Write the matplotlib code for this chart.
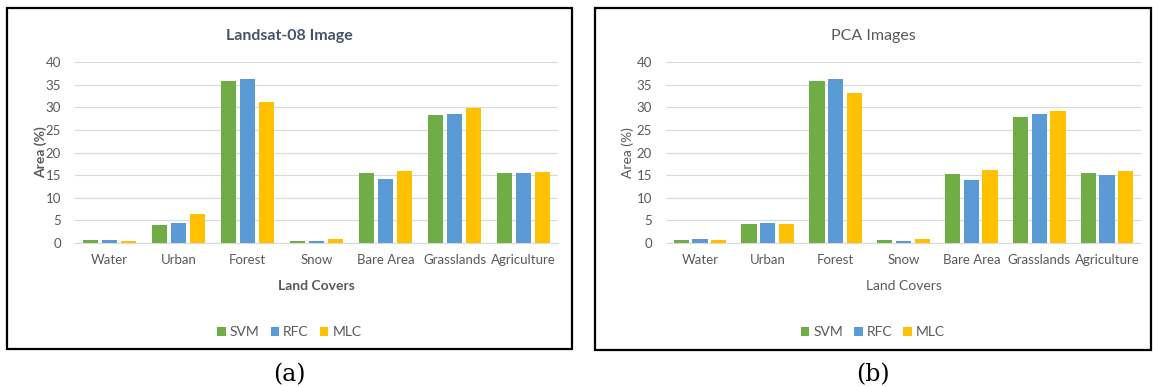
import matplotlib.pyplot as plt
from matplotlib.patches import Rectangle
import numpy as np

# Data
land_covers = ["Water", "Urban", "Forest", "Snow", "Bare Area", "Grasslands", "Agriculture"]
methods = ["SVM", "RFC", "MLC"]
colors = ["#70AD47", "#5B9BD5", "#FFC000"]

# Landsat-08 image classification (area %)
landsat_svm = [0.7, 4.0, 35.8, 0.5, 15.4, 28.2, 15.4]
landsat_rfc = [0.7, 4.4, 36.3, 0.5, 14.1, 28.5, 15.4]
landsat_mlc = [0.4, 6.3, 31.1, 0.9, 16.0, 29.8, 15.8]

# PCA images classification (area %)
pca_svm = [0.7, 4.1, 35.7, 0.6, 15.3, 27.9, 15.4]
pca_rfc = [0.9, 4.5, 36.3, 0.5, 13.9, 28.5, 15.1]
pca_mlc = [0.6, 4.2, 33.2, 0.8, 16.1, 29.1, 15.9]

W, H = 1153, 387
plt.rcParams['font.family'] = ['Lato', 'DejaVu Sans']
fig = plt.figure(figsize=(W / 100, H / 100), dpi=100)


def px_box(x0, y0, x1, y1):
    # pixel box (top-left origin) -> figure fraction rect
    return [x0 / W, 1 - y1 / H, (x1 - x0) / W, (y1 - y0) / H]


def panel(box, frame, title, series, bold, caption, ylab_x):
    text_col = "#595959"
    weight = "bold" if bold else "normal"
    # outer frame
    fx0, fy0, fx1, fy1 = frame
    fig.patches.append(Rectangle((fx0 / W, 1 - fy1 / H), (fx1 - fx0) / W, (fy1 - fy0) / H,
                                 transform=fig.transFigure, fill=False,
                                 edgecolor="black", linewidth=1.6))
    frame_cx = (fx0 + fx1) / 2
    ax = fig.add_axes(px_box(*box))
    x = np.arange(len(land_covers))
    width = 0.225
    step = 0.275
    for i, (vals, c, name) in enumerate(zip(series, colors, methods)):
        ax.bar(x + (i - 1) * step, vals, width=width, color=c, label=name, zorder=3)
    ax.set_xlim(-0.5, len(land_covers) - 0.5)
    ax.set_ylim(0, 40)
    ax.set_yticks(range(0, 41, 5))
    ax.set_xticks(x)
    ax.set_xticklabels(land_covers)
    ax.tick_params(length=0, labelsize=9.5, colors=text_col)
    ax.tick_params(axis="x", pad=8)
    ax.tick_params(axis="y", pad=10)
    ax.grid(axis="y", color="#D9D9D9", linewidth=0.8, zorder=0)
    for s in ["top", "right", "left"]:
        ax.spines[s].set_visible(False)
    ax.spines["bottom"].set_color("#D9D9D9")
    ax.set_ylabel("Area (%)", fontsize=10, color=text_col, fontweight=weight)
    ax.yaxis.set_label_coords((ylab_x - box[0]) / (box[2] - box[0]), 0.5)
    plot_cx = (box[0] + box[2]) / 2
    fig.text(frame_cx / W, 1 - 36 / H, title, ha="center", va="center", fontsize=11.5,
             color="#44546A" if bold else text_col, fontweight=weight)
    fig.text(plot_cx / W, 1 - 286 / H, "Land Covers", ha="center", va="center",
             fontsize=10, color=text_col, fontweight=weight)
    fig.legend(loc="center", bbox_to_anchor=(frame_cx / W, 1 - 332 / H),
               ncol=3, frameon=False, fontsize=10, handlelength=0.6, handleheight=0.6,
               handletextpad=0.3, columnspacing=0.8, labelcolor=text_col,
               handles=ax.containers)
    fig.text(frame_cx / W, 1 - 375 / H, caption, ha="center", va="center",
             fontsize=17, family="DejaVu Serif", color="black")
    return ax


panel((75, 62, 558, 243), (7, 8, 572, 349), "Landsat-08 Image",
      [landsat_svm, landsat_rfc, landsat_mlc], True, "(a)", 47)
panel((666, 62, 1141, 243), (595, 8, 1151, 350), "PCA Images",
      [pca_svm, pca_rfc, pca_mlc], False, "(b)", 634)

plt.savefig("out.png", dpi=100)
